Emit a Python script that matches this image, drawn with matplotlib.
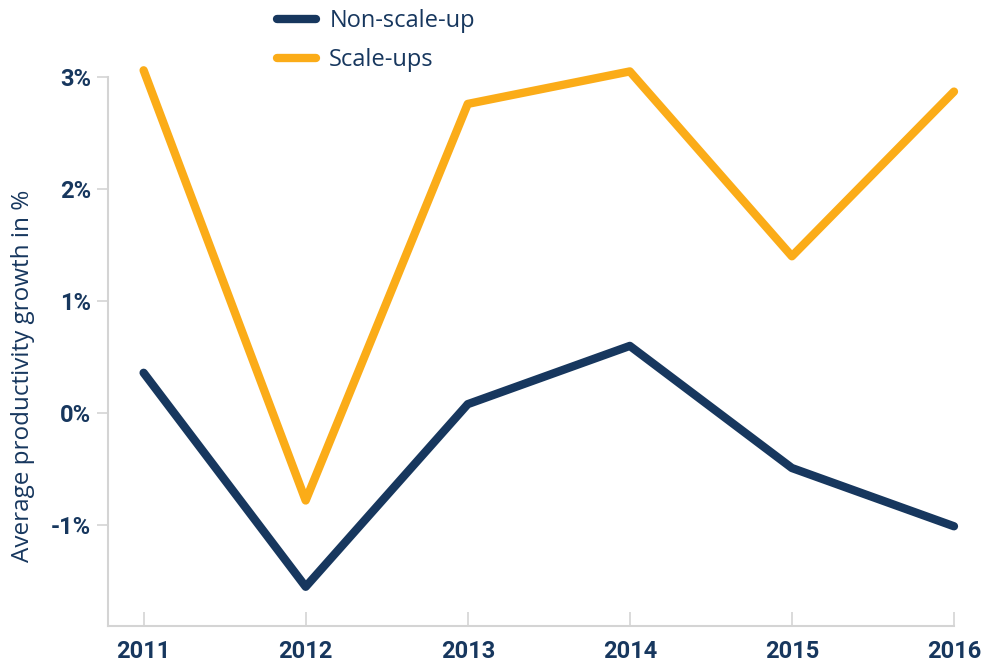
import matplotlib
matplotlib.use("Agg")
import matplotlib.pyplot as plt
from matplotlib.lines import Line2D

years = [2011, 2012, 2013, 2014, 2015, 2016]
non_scale_up = [0.36, -1.55, 0.08, 0.60, -0.49, -1.01]
scale_ups = [3.06, -0.78, 2.76, 3.05, 1.40, 2.87]
y_ticks = [-1, 0, 1, 2, 3]
y_tick_labels = ["-1%", "0%", "1%", "2%", "3%"]

navy = "#17375e"
orange = "#fbac18"
grey = "#d4d4d4"

fig = plt.figure(figsize=(9.85, 6.68), dpi=100)
ax = fig.add_axes([0.1096, 0.0629, 0.8589, 0.8218])

ax.plot(years, non_scale_up, color=navy, lw=6, solid_capstyle="round",
        solid_joinstyle="round", clip_on=False)
ax.plot(years, scale_ups, color=orange, lw=6, solid_capstyle="round",
        solid_joinstyle="round", clip_on=False)

ax.set_xlim(2010.78, 2016)
ax.set_ylim(-1.90, 3.0)

for side in ("top", "right"):
    ax.spines[side].set_visible(False)
for side in ("left", "bottom"):
    ax.spines[side].set_color(grey)
    ax.spines[side].set_linewidth(1.5)

tick_font = dict(family="Roboto", weight="bold")
ax.set_xticks(years)
ax.set_xticklabels([str(y) for y in years], fontsize=17, color=navy, **tick_font)
ax.set_yticks(y_ticks)
ax.set_yticklabels(y_tick_labels, fontsize=17, color=navy, **tick_font)
ax.tick_params(axis="x", direction="in", length=10, width=1.2, color=grey, pad=10)
ax.tick_params(axis="y", direction="out", length=8, width=1.2, color=grey, pad=4)

ax.set_ylabel("Average productivity growth in %", fontsize=17.5, color=navy,
              family="Open Sans")
ax.yaxis.set_label_coords(-0.086, 0.456)

handles = [Line2D([], [], color=navy, lw=6, solid_capstyle="round"),
           Line2D([], [], color=orange, lw=6, solid_capstyle="round")]
fig.legend(handles, ["Non-scale-up", "Scale-ups"], loc="upper left",
           bbox_to_anchor=(0.260, 1.018), frameon=False, handlelength=1.65,
           handletextpad=0.55, labelspacing=0.62,
           prop=dict(family="Open Sans", size=17), labelcolor=navy)

fig.savefig("out.png", dpi=100)
